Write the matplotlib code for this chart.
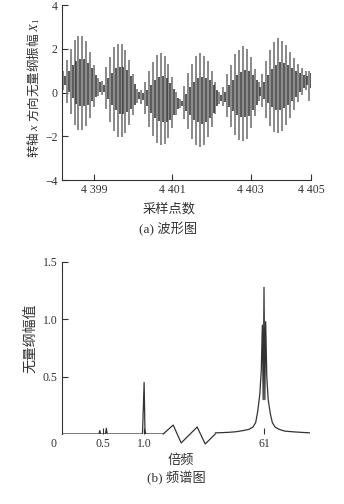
import numpy as np
import matplotlib
matplotlib.use('Agg')
import matplotlib.pyplot as plt

plt.rcParams['font.family'] = ['Liberation Serif', 'Noto Sans CJK SC', 'DejaVu Sans']
plt.rcParams['mathtext.fontset'] = 'custom'
plt.rcParams['mathtext.rm'] = 'Liberation Serif'
plt.rcParams['mathtext.it'] = 'Liberation Serif:italic'
plt.rcParams['axes.unicode_minus'] = True

# ---- (a) waveform: one vertical stroke per carrier cycle ----
wave_start = 4398.2
wave_step = 0.1
wave_upper = [0.98, 1.47, 2.00, 2.39, 2.60, 2.60, 2.34, 1.85, 1.27, 0.68,
              0.52, 1.15, 1.63, 2.06, 2.22, 2.22, 1.96, 1.48, 0.85, 0.17,
              0.12, 0.49, 0.97, 1.40, 1.71, 1.82, 1.66, 1.30, 0.72, 0.03,
              -0.28, 0.30, 0.89, 1.32, 1.69, 1.80, 1.69, 1.42, 0.99, 0.50, 0.01,
              0.23, 0.83, 1.26, 1.74, 1.96, 2.12, 2.01, 1.63, 1.09, 0.48,
              0.86, 1.45, 1.94, 2.31, 2.47, 2.36, 2.19, 1.87, 1.59, 1.32, 1.11, 0.98, 1.00]
wave_lower = [0.12, -0.47, -1.00, -1.49, -1.70, -1.70, -1.54, -1.15, -0.67, -0.18,
              -0.12, -0.75, -1.33, -1.76, -2.02, -2.02, -1.86, -1.48, -1.05, -0.47,
              -0.52, -0.99, -1.57, -2.00, -2.31, -2.42, -2.36, -2.10, -1.62, -1.03,
              -0.72, -1.20, -1.69, -2.12, -2.39, -2.50, -2.39, -2.02, -1.59, -1.00, -0.51,
              -0.63, -1.13, -1.56, -1.94, -2.16, -2.22, -2.11, -1.63, -1.09, -0.38,
              -0.66, -1.15, -1.54, -1.81, -1.87, -1.76, -1.49, -1.17, -0.79, -0.42, -0.11, 0.12, -0.40]
# shorter in-between strokes forming the dense middle band
band_upper = [0.77, 0.99, 1.25, 1.42, 1.53, 1.53, 1.37, 1.10, 0.79, 0.47,
              0.36, 0.68, 0.89, 1.11, 1.16, 1.16, 1.01, 0.74, 0.38, 0.01,
              -0.04, 0.12, 0.34, 0.55, 0.70, 0.76, 0.65, 0.45, 0.14, -0.23,
              -0.39, -0.07, 0.25, 0.46, 0.67, 0.73, 0.67, 0.56, 0.35, 0.13, -0.12,
              0.02, 0.34, 0.56, 0.82, 0.93, 1.04, 0.98, 0.82, 0.55, 0.27,
              0.48, 0.80, 1.07, 1.28, 1.39, 1.33, 1.27, 1.11, 1.00, 0.89, 0.81, 0.77, 0.88]
band_lower = [0.33, 0.01, -0.25, -0.52, -0.63, -0.63, -0.57, -0.40, -0.19, 0.03,
              0.04, -0.28, -0.59, -0.81, -0.96, -0.96, -0.91, -0.74, -0.58, -0.31,
              -0.36, -0.62, -0.94, -1.15, -1.30, -1.36, -1.35, -1.25, -1.04, -0.77,
              -0.61, -0.83, -1.05, -1.26, -1.37, -1.43, -1.37, -1.16, -0.95, -0.63, -0.38,
              -0.42, -0.64, -0.86, -1.02, -1.13, -1.14, -1.08, -0.82, -0.55, -0.17,
              -0.28, -0.50, -0.67, -0.78, -0.79, -0.73, -0.57, -0.41, -0.20, 0.01, 0.19, 0.33, 0.22]
wave_ticks = [4399, 4401, 4403, 4404.54]
wave_ticklabels = ['4 399', '4 401', '4 403', '4 405']

# ---- (b) spectrum with broken frequency axis ----
low_order = [0, 0.45, 0.46, 0.47, 0.53, 0.54, 0.55, 0.98, 0.99, 1.0, 1.01, 1.02, 1.24]
low_amp = [0, 0, 0.03, 0, 0, 0.05, 0, 0, 0.22, 0.45, 0.04, 0, 0]
high_order = [57.5, 58.0, 58.5, 59.0, 59.5, 59.9, 60.2, 60.4, 60.55, 60.7, 60.8, 60.88, 60.94,
              61.0, 61.06, 61.12, 61.2, 61.3, 61.45, 61.6, 61.8, 62.1, 62.5, 63.0, 63.6, 64.3]
high_amp = [0.01, 0.012, 0.015, 0.02, 0.03, 0.04, 0.06, 0.1, 0.2, 0.35, 0.55, 0.95, 0.3,
            1.28, 0.3, 0.98, 0.5, 0.3, 0.18, 0.1, 0.06, 0.04, 0.025, 0.02, 0.015, 0.01]
break_x = [1.232, 1.354, 1.451, 1.646, 1.744, 1.866]
break_y = [0, 0.078, -0.078, 0.061, -0.087, 0]

txt_c = '#333333'

fig = plt.figure(figsize=(3.44, 5.04), dpi=100)

# (a)
ax1 = fig.add_axes([62/344, 1 - 180/504, 249/344, 175/504])
xs = wave_start + wave_step * np.arange(len(wave_upper))
ax1.vlines(xs, wave_lower, wave_upper, color='#6a6a6a', lw=1.1)
ax1.vlines(xs + wave_step / 2, band_lower, band_upper, color='#3c3c3c', lw=1.2)
ax1.set_xlim(4398.18, 4404.54)
ax1.set_ylim(-4, 4)
ax1.set_yticks([-4, -2, 0, 2, 4])
ax1.set_yticklabels(['\u22124', '\u22122', '0', '2', '4'])
ax1.set_xticks(wave_ticks)
ax1.set_xticklabels(wave_ticklabels)
ax1.spines['top'].set_visible(False)
ax1.spines['right'].set_visible(False)

# (b)
ax2 = fig.add_axes([62/344, 1 - 434/504, 248/344, 172/504])
ax2.plot(low_order, low_amp, color='#333333', lw=0.9)
hi_u = 2.46 + (np.array(high_order) - 61) * 0.169
ax2.plot(hi_u, high_amp, color='#333333', lw=0.9)
ax2.plot(break_x, break_y, color='#333333', lw=0.9, clip_on=False)
ax2.set_xlim(0, 3.02)
ax2.set_ylim(0, 1.5)
ax2.set_yticks([0.5, 1.0, 1.5])
ax2.set_yticklabels(['0.5', '1.0', '1.5'])
ax2.set_xticks([0.5, 1.0, 2.46])
ax2.set_xticklabels(['0.5', '1.0', '61'])
for s in ['top', 'right', 'bottom']:
    ax2.spines[s].set_visible(False)
ax2.text(-0.1, -0.06, '0', ha='center', va='center', fontsize=8.5, color=txt_c,
         transform=ax2.get_xaxis_transform())

for ax in (ax1, ax2):
    ax.tick_params(direction='in', length=4, width=0.8, labelsize=8.5,
                   colors=txt_c, pad=3)
    for s in ax.spines.values():
        s.set_color('#333333')
        s.set_linewidth(0.8)

fig.text(33/344, 1 - 88/504, '转轴 $x$ 方向无量纲振幅 $X_1$', rotation=90,
         ha='center', va='center', fontsize=9, color=txt_c, family='Noto Sans CJK SC')
fig.text(169/344, 1 - 209/504, '采样点数', ha='center', va='center', fontsize=9.5, color=txt_c)
fig.text(168/344, 1 - 229/504, '(a) 波形图', ha='center', va='center', fontsize=9.5, color=txt_c)
fig.text(30/344, 1 - 338/504, '无量纲幅值', rotation=90,
         ha='center', va='center', fontsize=10, color=txt_c)
fig.text(181/344, 1 - 461/504, '倍频', ha='center', va='center', fontsize=9.5, color=txt_c)
fig.text(176/344, 1 - 478/504, '(b) 频谱图', ha='center', va='center', fontsize=9.5, color=txt_c)

fig.savefig('out.png', dpi=100)
plt.close(fig)
